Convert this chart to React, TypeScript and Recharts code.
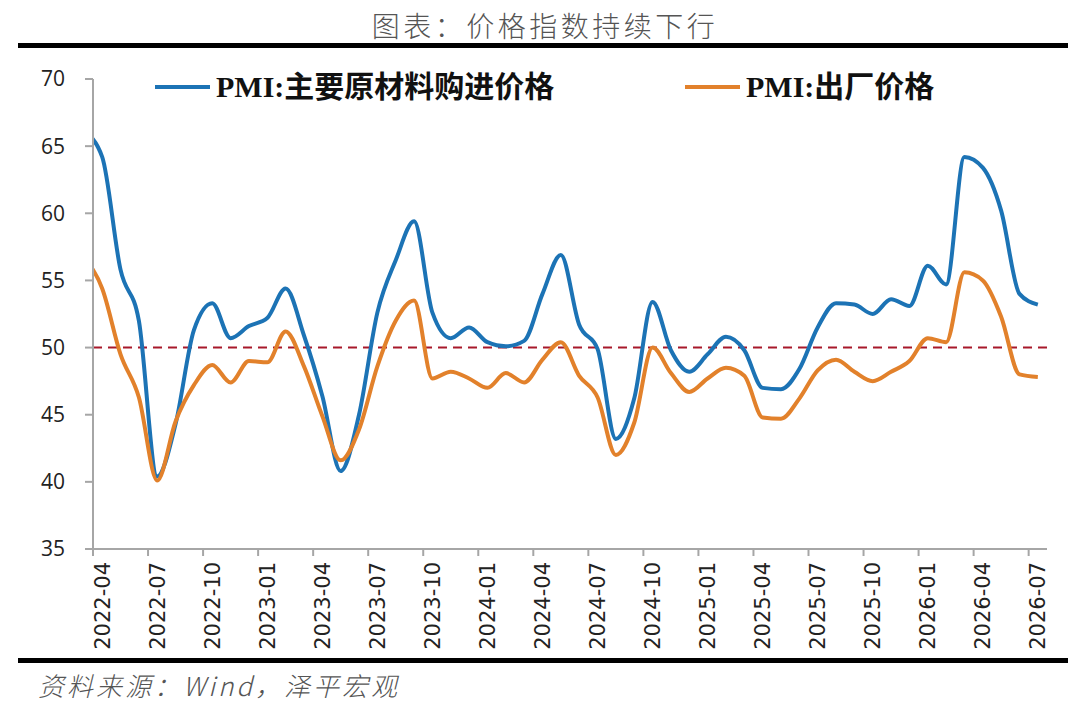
import { Line, LineChart, ReferenceLine, XAxis, YAxis } from 'recharts';

// monthly observations, 2022-03 .. 2026-07 (the first one sits just left of the axis start)
const months = [
  '2022-03', '2022-04', '2022-05', '2022-06', '2022-07', '2022-08', '2022-09', '2022-10', '2022-11', '2022-12',
  '2023-01', '2023-02', '2023-03', '2023-04', '2023-05', '2023-06', '2023-07', '2023-08', '2023-09', '2023-10', '2023-11', '2023-12',
  '2024-01', '2024-02', '2024-03', '2024-04', '2024-05', '2024-06', '2024-07', '2024-08', '2024-09', '2024-10', '2024-11', '2024-12',
  '2025-01', '2025-02', '2025-03', '2025-04', '2025-05', '2025-06', '2025-07', '2025-08', '2025-09', '2025-10', '2025-11', '2025-12',
  '2026-01', '2026-02', '2026-03', '2026-04', '2026-05', '2026-06', '2026-07',
];

const purchasePrice = [
  66.1, 64.2, 55.8, 52.0, 40.4, 44.3, 51.3, 53.3, 50.7, 51.6,
  52.2, 54.4, 50.9, 46.4, 40.8, 45.0, 52.6, 56.5, 59.4, 52.6, 50.7, 51.5,
  50.4, 50.1, 50.5, 54.0, 56.9, 51.7, 49.9, 43.2, 46.2, 53.4, 49.8, 48.2,
  49.5, 50.8, 49.8, 47.0, 46.9, 48.4, 51.5, 53.3, 53.2, 52.5, 53.6, 53.1,
  56.1, 54.7, 64.2, 63.4, 60.2, 54.0, 53.2,
];

const outputPrice = [
  56.7, 54.4, 49.5, 46.3, 40.1, 44.5, 47.2, 48.7, 47.4, 49.0,
  48.9, 51.2, 48.6, 44.9, 41.6, 43.9, 48.6, 52.0, 53.5, 47.7, 48.2, 47.7,
  47.0, 48.1, 47.4, 49.1, 50.4, 47.9, 46.3, 42.0, 44.4, 50.0, 48.1, 46.7,
  47.7, 48.5, 47.9, 44.8, 44.7, 46.2, 48.3, 49.1, 48.2, 47.5, 48.2, 49.0,
  50.7, 50.4, 55.6, 55.0, 52.3, 48.0, 47.8,
];

const yTicks = [35, 40, 45, 50, 55, 60, 65, 70];
// a label every third month, starting 2022-04
const labelMonths = ['2022-04', '2022-07', '2022-10', '2023-01', '2023-04', '2023-07', '2023-10', '2024-01', '2024-04', '2024-07', '2024-10', '2025-01', '2025-04', '2025-07', '2025-10', '2026-01', '2026-04', '2026-07'];

const SERIES_A = 'PMI:主要原材料购进价格';
const SERIES_B = 'PMI:出厂价格';

const data = months.map((m, i) => ({ idx: i, month: m, a: purchasePrice[i], b: outputPrice[i] }));

// tick marks sit at month boundaries, labels in the middle of the month
const xTicks = labelMonths.map((m) => months.indexOf(m) - 0.5);
const X_DOMAIN: [number, number] = [0.5, months.length - 0.5];

const W = 1080;
const H = 708;
const MARGIN = { top: 79, right: 33, left: 0, bottom: 49 };
const Y_AXIS_W = 93;
const PLOT_W = W - MARGIN.left - MARGIN.right - Y_AXIS_W;
const HALF_STEP = PLOT_W / (X_DOMAIN[1] - X_DOMAIN[0]) / 2;

const BLUE = '#1C73B5';
const ORANGE = '#E2812B';
const AXIS = '#A6A6A6';

function MonthTick({ x, y, payload }: any) {
  const label = months[Math.round(payload.value + 0.5)];
  return (
    <g transform={`translate(${x + HALF_STEP},${y})`}>
      <text
        transform="rotate(-90)"
        x={-4}
        y={0}
        dy="0.36em"
        textAnchor="end"
        fill="#222"
        fontSize={21}
        fontFamily="'DejaVu Sans', sans-serif"
      >
        {label}
      </text>
    </g>
  );
}

function ChartLegend() {
  const item = (color: string, text: string, width?: number) => (
    <div style={{ display: 'flex', alignItems: 'center', width }}>
      <span style={{ display: 'inline-block', width: 55, height: 4, background: color, marginRight: 6 }} />
      <span>{text}</span>
    </div>
  );
  return (
    <div
      style={{
        position: 'absolute',
        top: 70,
        left: 155,
        display: 'flex',
        fontFamily: "'Liberation Serif', 'Noto Sans CJK SC', serif",
        fontWeight: 'bold',
        fontSize: 30,
        lineHeight: '34px',
        color: '#111',
      }}
    >
      {item(BLUE, SERIES_A, 530)}
      {item(ORANGE, SERIES_B)}
    </div>
  );
}

export default function App() {
  return (
    <div style={{ position: 'absolute', left: 0, top: 0, width: W, height: H, background: '#fff' }}>
      <div
        style={{
          position: 'absolute',
          top: 5,
          left: 0,
          width: 1090,
          textAlign: 'center',
          fontFamily: "'Noto Sans CJK SC', sans-serif",
          fontWeight: 300,
          fontSize: 28,
          letterSpacing: 3.5,
          color: '#555',
        }}
      >
        图表：价格指数持续下行
      </div>
      <div style={{ position: 'absolute', top: 43, left: 18, width: 1050, height: 5, background: '#000' }} />

      <LineChart width={W} height={H} data={data} margin={MARGIN}>
        <XAxis
          dataKey="idx"
          type="number"
          domain={X_DOMAIN}
          allowDataOverflow
          ticks={xTicks}
          interval={0}
          height={110}
          stroke={AXIS}
          strokeWidth={2}
          tickSize={7}
          tickMargin={2}
          tick={<MonthTick />}
        />
        <YAxis
          domain={[35, 70]}
          ticks={yTicks}
          interval={0}
          width={Y_AXIS_W}
          stroke={AXIS}
          strokeWidth={2}
          tickSize={8}
          tickMargin={20}
          tick={{ fill: '#222', fontSize: 21, fontFamily: "'Open Sans', sans-serif" }}
        />
        <ReferenceLine y={50} stroke="#A8192B" strokeWidth={2} strokeDasharray="9 6" />
        <Line
          type="monotone"
          dataKey="a"
          name={SERIES_A}
          stroke={BLUE}
          strokeWidth={4}
          dot={false}
          isAnimationActive={false}
        />
        <Line
          type="monotone"
          dataKey="b"
          name={SERIES_B}
          stroke={ORANGE}
          strokeWidth={4}
          dot={false}
          isAnimationActive={false}
        />
      </LineChart>

      <ChartLegend />

      <div style={{ position: 'absolute', top: 658, left: 18, width: 1050, height: 5, background: '#000' }} />
      <div
        style={{
          position: 'absolute',
          top: 666,
          left: 38,
          fontFamily: "'Noto Sans CJK SC', sans-serif",
          fontStyle: 'italic',
          fontWeight: 300,
          fontSize: 26,
          letterSpacing: 3,
          color: '#555',
        }}
      >
        资料来源：Wind，泽平宏观
      </div>
    </div>
  );
}
